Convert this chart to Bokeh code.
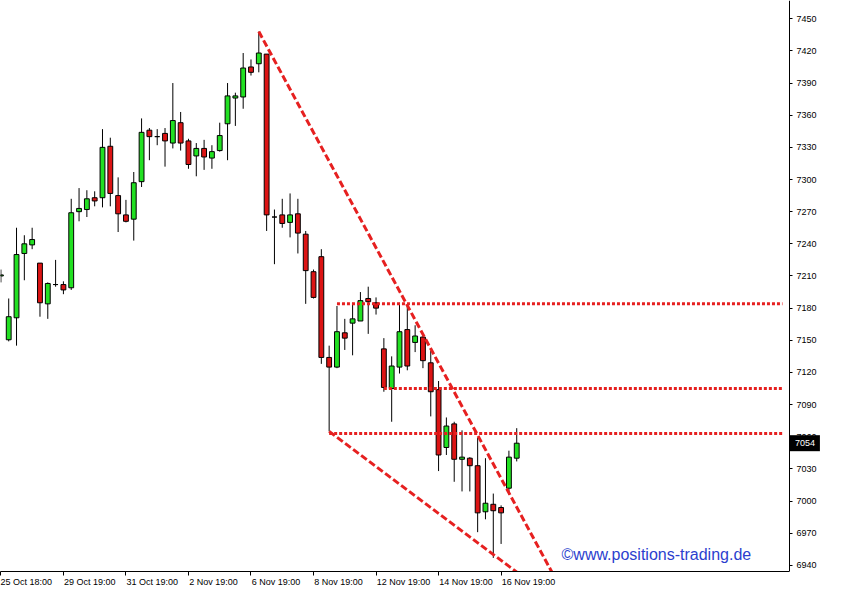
from bokeh.plotting import figure
from bokeh.models import ColumnDataSource, FixedTicker, Range1d, Label
from bokeh.embed import file_html
from bokeh.resources import INLINE

# ---- data (H4 candles, index = candle number) ----
opens = [7210, 7150.5, 7171, 7231, 7239, 7222, 7184, 7202, 7202, 7199,
         7270, 7272, 7283, 7283, 7331, 7285, 7267, 7263, 7298, 7346,
         7340, 7343, 7334, 7353, 7336, 7322, 7329, 7320, 7327, 7352,
         7376, 7377, 7405, 7408, 7417, 7265, 7267, 7260, 7268, 7249,
         7214, 7228, 7134, 7125, 7157, 7166, 7168, 7189, 7185, 7142,
         7105, 7125, 7160, 7148, 7153, 7129, 7104, 7050, 7072, 7039,
         7040, 7033, 6990, 6997, 6994, 7012, 7040]
highs = [7216, 7189, 7255, 7248, 7255, 7222, 7204, 7225, 7205, 7282,
         7292, 7290, 7289, 7347, 7339, 7302, 7281, 7307, 7357, 7348,
         7347, 7348, 7390, 7363, 7338, 7334, 7337, 7332, 7353, 7390,
         7381, 7418, 7412, 7438, 7417, 7272, 7282, 7287, 7282, 7252,
         7216, 7235, 7145, 7182, 7170, 7185, 7195, 7200, 7190, 7152,
         7135, 7185, 7183, 7164, 7155, 7140, 7112, 7078, 7074, 7066,
         7041, 7059, 7040, 7007, 6996, 7047, 7068]
lows = [7204, 7149, 7145, 7206, 7235, 7172, 7170, 7200, 7193, 7197,
        7261, 7265, 7275, 7274, 7275, 7251, 7260, 7243, 7293, 7318,
        7332, 7312, 7329, 7327, 7310, 7303, 7309, 7310, 7326, 7318,
        7350, 7366, 7397, 7400, 7252, 7221, 7255, 7246, 7231, 7184,
        7189, 7128, 7065, 7124, 7141, 7136, 7168, 7156, 7174, 7102,
        7074, 7119, 7122, 7139, 7124, 7079, 7028, 7043, 7018, 7009,
        7009, 6971, 6983, 6947, 6960, 7006, 7037]
closes = [7211, 7172, 7230, 7240, 7244, 7185, 7203, 7202, 7197, 7269,
          7273, 7282, 7280, 7330, 7287, 7268, 7261, 7297, 7344, 7340,
          7340, 7336, 7355, 7334, 7314, 7329, 7321, 7326, 7341, 7378,
          7378, 7404, 7400, 7418, 7267, 7265, 7259, 7267, 7250, 7215,
          7190, 7134, 7125, 7158, 7152, 7170, 7187, 7186, 7180, 7106,
          7126, 7158, 7126, 7154, 7131, 7102, 7043, 7070, 7039, 7041,
          7033, 6989, 6998, 6991, 6989, 7041, 7054]

tick_idx = [0, 8, 16, 24, 32, 40, 48, 56, 64]
tick_labels = ["25 Oct 18:00", "29 Oct 19:00", "31 Oct 19:00", "2 Nov 19:00",
               "6 Nov 19:00", "8 Nov 19:00", "12 Nov 19:00", "14 Nov 19:00",
               "16 Nov 19:00"]
price_ticks = [6940, 6970, 7000, 7030, 7060, 7090, 7120, 7150, 7180, 7210,
               7240, 7270, 7300, 7330, 7360, 7390, 7420, 7450]

# trend lines (candle index, price)
down_line_x = [33, 71]
down_line_y = [7438, 6927]
low_line_x = [42, 66.5]
low_line_y = [7065, 6931]
level_prices = [7184, 7105, 7063]
level_start = [43, 49, 42]
level_end = [100, 100, 100]

last_price = "7054"
watermark = "©www.positions-trading.de"

# ---- build ----
n = len(opens)
idx = list(range(n))
BULL = "#22e022"
BEAR = "#dc1414"
src = ColumnDataSource(dict(
    x=idx, o=opens, h=highs, l=lows, c=closes,
    top=[max(a, b) for a, b in zip(opens, closes)],
    bot=[min(a, b) for a, b in zip(opens, closes)],
    color=[BULL if c >= o else BEAR for o, c in zip(opens, closes)],
))

W, H = 831, 589
X0 = -0.05
AXIS_X = 100.9           # price scale sits right of the last chart slot
PX_PER_SLOT = (W - 42) / (AXIS_X - X0)
X1 = X0 + W / PX_PER_SLOT

p = figure(width=W, height=H, output_backend="svg", toolbar_location=None,
           x_range=Range1d(X0, X1), y_range=Range1d(6934.3, 7467),
           y_axis_location="right",
           min_border_left=0, min_border_top=0, min_border_right=0,
           min_border_bottom=18)
p.xgrid.visible = False
p.ygrid.visible = False
p.outline_line_color = None
p.background_fill_color = "white"
p.border_fill_color = "white"

p.segment(x0="x", y0="h", x1="x", y1="l", source=src, line_color="black", line_width=1)
p.vbar(x="x", width=0.62, top="top", bottom="bot", source=src,
       fill_color="color", line_color="black", line_width=1)

RED = "#e62020"
p.line(down_line_x, down_line_y, line_color=RED, line_width=3, line_dash="7 3")
p.line(low_line_x, low_line_y, line_color=RED, line_width=3, line_dash="7 3")
p.segment(x0=level_start, y0=level_prices, x1=level_end, y1=level_prices,
          line_color=RED, line_width=3, line_dash="3 2")

FONT = "Liberation Sans"
# char widths (em) of Liberation Sans, used to left-align tick labels at their tick
CW = {" ": 0.278, ":": 0.278, "O": 0.778, "c": 0.5, "t": 0.278, "N": 0.722,
      "o": 0.556, "v": 0.5}
def padded(s, first):
    if first:
        return s
    w = sum(CW.get(ch, 0.556) for ch in s) + 0.15
    k = int(round(w / 0.278))
    return "\u00a0" * k + s

xa = p.xaxis[0]
xa.ticker = FixedTicker(ticks=tick_idx)
xa.bounds = (X0, AXIS_X)
xa.major_label_overrides = {t: padded(s, i == 0) for i, (t, s) in enumerate(zip(tick_idx, tick_labels))}
xa.minor_tick_line_color = None
xa.major_tick_in = 0
xa.major_tick_out = 4
xa.major_label_standoff = 1
xa.axis_line_color = "black"
xa.major_tick_line_color = "black"
xa.major_label_text_font = FONT
xa.major_label_text_font_size = "9px"
xa.major_label_text_color = "black"

ya = p.yaxis[0]
ya.fixed_location = AXIS_X
ya.ticker = FixedTicker(ticks=price_ticks)
ya.minor_tick_line_color = None
ya.major_tick_in = 0
ya.major_tick_out = 3
ya.major_label_standoff = 4
ya.axis_line_color = "black"
ya.major_tick_line_color = "black"
ya.major_label_text_font = FONT
ya.major_label_text_font_size = "9px"
ya.major_label_text_color = "black"

p.add_layout(Label(x=96, y=6942, text=watermark, text_align="right",
                   text_font=FONT, text_font_size="16px", text_color="#2c3fce"))
p.add_layout(Label(x=AXIS_X + 0.05, y=float(last_price),
                   text=last_price, text_align="left",
                   text_baseline="middle", text_font=FONT, text_font_size="9px",
                   text_color="white", background_fill_color="black",
                   padding=(5, 5)))

open("out.html", "w").write(file_html(p, INLINE))
